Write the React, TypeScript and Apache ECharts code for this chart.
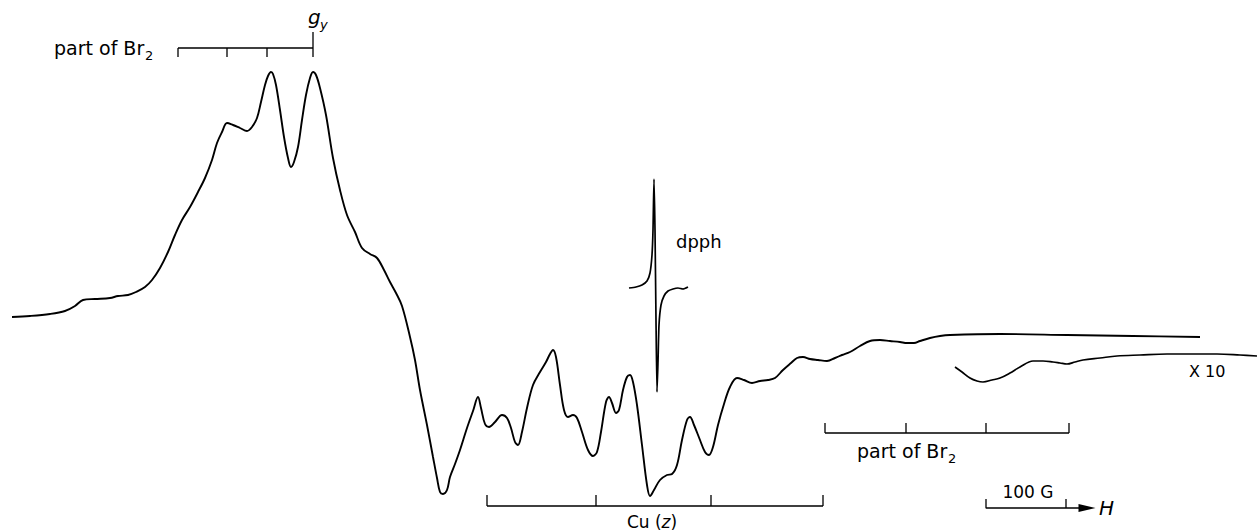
import React, { useEffect, useRef } from "react";
import * as echarts from "echarts";

// Main EPR trace: [field position (px units of the original plot), signal (px row)]
const mainTrace: number[][] = [
  [12,317],[30,316],[50,314],[65,311],[75,306],[83,300],[95,299],[110,298],[118,296],[128,295],[136,292],[145,287],[152,280],[160,268],[168,252],[175,235],[182,220],[190,207],[198,192],[205,178],[212,160],[217,143],[222,132],[227,123],[233,125],[240,128],[247,131],[252,127],[257,118],[261,102],[265,85],[268,76],[271,72],[273,74],[276,85],[280,110],[284,137],[288,158],[291,167],[294,162],[298,147],[302,120],[306,95],[310,78],[313,72],[316,75],[320,88],[326,115],[333,158],[340,190],[347,215],[355,232],[362,248],[370,254],[377,258],[384,270],[390,282],[396,293],[402,306],[410,337],[415,360],[420,390],[427,425],[433,457],[437,478],[440,492],[443,494],[447,490],[450,477],[455,464],[460,450],[467,428],[473,411],[478,397],[481,408],[485,424],[489,427],[495,422],[502,415],[507,418],[511,428],[515,442],[518,445],[522,432],[527,408],[533,385],[540,372],[546,362],[550,354],[553,350],[556,357],[560,385],[564,410],[568,417],[573,415],[577,418],[582,432],[588,450],[593,456],[597,452],[601,432],[606,402],[609,397],[612,403],[616,413],[619,410],[623,390],[627,377],[630,375],[633,382],[637,405],[642,445],[647,485],[650,496],[654,490],[660,480],[667,475],[672,474],[677,465],[682,440],[687,420],[690,417],[694,425],[700,440],[705,452],[709,455],[713,447],[718,425],[724,404],[730,387],[737,378],[744,380],[752,383],[760,381],[768,380],[775,378],[783,370],[791,363],[797,358],[803,357],[810,359],[818,360],[827,361],[835,358],[842,355],[850,352],[860,346],[870,341],[880,340],[890,341],[900,342],[907,343],[914,343],[920,341],[930,338],[940,336],[950,335],[1000,334],[1067,335],[1133,336],[1200,337]
];

// dpph reference line
const dpphTrace: number[][] = [
  [629,288],[636,287],[642,285],[647,281],[650,273],[652,255],[653,230],[654,179],[655,230],[656,320],[657,392],[658,362],[659,325],[661,305],[664,296],[668,291],[673,289],[678,288],[683,289],[688,287]
];

// x10 expanded high-field part
const x10Trace: number[][] = [
  [955,367],[962,372],[970,378],[977,381],[983,382],[992,380],[1000,378],[1010,373],[1020,367],[1033,361],[1043,361],[1053,362],[1060,363],[1067,364],[1075,362],[1083,360],[1100,358],[1117,356],[1140,355],[1167,354],[1190,354],[1217,354],[1240,355],[1257,356]
];

// Stick diagrams (tick positions)
const topBr2Ticks = [178, 227, 267, 313];
const cuZTicks = [487, 596, 711, 823];
const lowBr2Ticks = [825, 906, 986, 1069];
const scaleBarTicks = [986, 1066];
const scaleBarArrowEnd = 1095;

const labels = {
  br: "part of Br",
  brSub: "2",
  g: "g",
  gSub: "y",
  dpph: "dpph",
  cu: "Cu",
  z: "z",
  x10: "X 10",
  scale: "100 G",
  h: "H",
};

function bracket(ticks: number[], yLine: number, yTick: number, extra?: number[][]) {
  const d: any[] = [];
  d.push([ticks[0], yLine], [ticks[ticks.length - 1], yLine], "-");
  ticks.forEach((t) => {
    d.push([t, yLine], [t, yTick], "-");
  });
  if (extra) extra.forEach((e) => d.push(e));
  return d;
}

export default function App() {
  const ref = useRef<HTMLDivElement>(null);
  useEffect(() => {
    const chart = echarts.init(ref.current!, null, { renderer: "svg" });
    const lineBase = {
      type: "line",
      showSymbol: false,
      symbol: "none",
      silent: true,
      connectNulls: false,
    };
    const font = "DejaVu Sans";
    const txt = (x: number, y: number, text: string, size: number, extra: any = {}) => ({
      type: "text", x, y,
      style: { text, fontSize: size, fontFamily: font, fill: "#000", verticalAlign: "middle", ...extra },
    });
    const scaleData: any[] = [
      [scaleBarTicks[0], 499], [scaleBarTicks[0], 508],
      [scaleBarArrowEnd - 10, 508],
      { value: [scaleBarArrowEnd - 8, 508], symbol: "triangle", symbolRotate: -90, symbolSize: [8, 17] },
      "-",
      [scaleBarTicks[1], 499], [scaleBarTicks[1], 508],
    ];
    chart.setOption({
      animation: false,
      grid: { left: 0, right: 0, top: 0, bottom: 0 },
      xAxis: { type: "value", min: 0, max: 1257, show: false },
      yAxis: { type: "value", min: 0, max: 531, inverse: true, show: false },
      series: [
        { ...lineBase, name: "spectrum", data: mainTrace, smooth: 0.35, lineStyle: { color: "#000", width: 1.9 } },
        { ...lineBase, name: "dpph", data: dpphTrace, smooth: 0.2, lineStyle: { color: "#000", width: 1.7 } },
        { ...lineBase, name: "x10", data: x10Trace, smooth: 0.35, lineStyle: { color: "#000", width: 1.7 } },
        { ...lineBase, name: "topBr2", data: bracket(topBr2Ticks, 48, 57, [[313, 48], [313, 32]]), lineStyle: { color: "#000", width: 1.3 } },
        { ...lineBase, name: "cuZ", data: bracket(cuZTicks, 506, 495), lineStyle: { color: "#000", width: 1.3 } },
        { ...lineBase, name: "lowBr2", data: bracket(lowBr2Ticks, 433, 423), lineStyle: { color: "#000", width: 1.3 } },
        {
          type: "line", name: "scale", silent: true, connectNulls: false, showSymbol: true, symbol: "none",
          data: scaleData, itemStyle: { color: "#000" }, lineStyle: { color: "#000", width: 1.3 },
        },
      ],
      graphic: [
        txt(54, 48, labels.br, 19),
        txt(145, 55, labels.brSub, 13),
        txt(308, 17, labels.g, 20, { fontStyle: "italic" }),
        txt(320, 24, labels.gSub, 13, { fontStyle: "italic" }),
        txt(676, 241, labels.dpph, 18),
        { type: "text", x: 652, y: 522, style: { text: `{a|${labels.cu} (}{z|${labels.z}}{a|)}`, rich: {
          a: { fontSize: 17, fontFamily: font, color: "#000" },
          z: { fontSize: 17, fontFamily: font, fontStyle: "italic", color: "#000" },
        }, align: "center", verticalAlign: "middle" } },
        txt(857, 451, labels.br, 19),
        txt(948, 458, labels.brSub, 13),
        txt(1189, 371, labels.x10, 16),
        txt(1028, 492, labels.scale, 17, { align: "center" }),
        txt(1099, 508, labels.h, 20, { fontStyle: "italic" }),
      ],
    });
    return () => chart.dispose();
  }, []);
  return (
    <div
      ref={ref}
      style={{ position: "fixed", left: 0, top: 0, width: 1257, height: 531, background: "#fff" }}
    />
  );
}
